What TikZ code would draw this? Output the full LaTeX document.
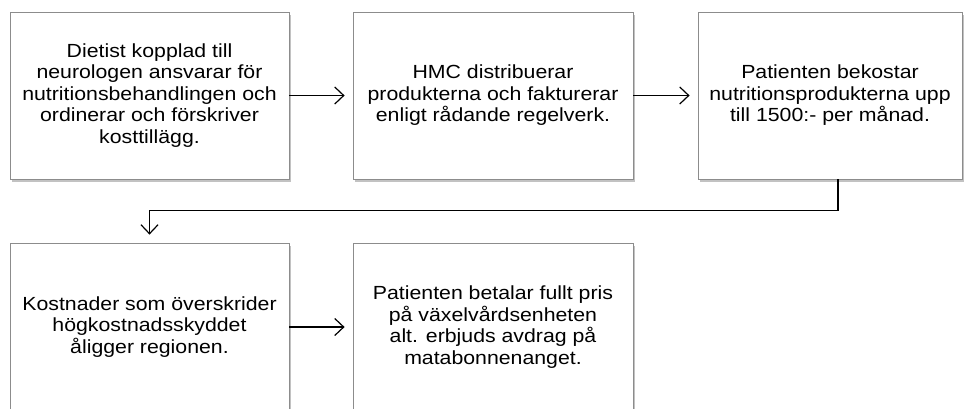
\documentclass[tikz,border=0pt]{standalone}
\usepackage{fontspec}
\setmainfont[FakeStretch=1.12]{Liberation Sans}
\usetikzlibrary{arrows.meta,shadows}
\begin{document}
\begin{tikzpicture}[x=1pt,y=-1pt,
  flowbox/.style={draw=black!45,line width=0.8pt,fill=white,align=center,inner sep=0pt,
    font=\fontsize{19}{21.5}\selectfont,
    drop shadow={shadow xshift=1.5pt,shadow yshift=-2.5pt,fill=black!40,opacity=0.6}},
  flow/.style={-{Straight Barb[length=9pt,width=17pt]},line width=1.2pt,shorten >=8pt}]
\useasboundingbox (0,0) rectangle (966,408);
% top row
\node[flowbox,minimum width=279pt,minimum height=167pt] (diet) at (149.5,95.5)
  {Dietist kopplad till\\neurologen ansvarar för\\nutritionsbehandlingen och\\ordinerar och förskriver\\kosttillägg.};
\node[flowbox,minimum width=280pt,minimum height=167pt] (hmc) at (493,95.5)
  {HMC distribuerar\\produkterna och fakturerar\\enligt rådande regelverk.};
\node[flowbox,minimum width=264pt,minimum height=167pt] (pat) at (830,95.5)
  {Patienten bekostar\\nutritionsprodukterna upp\\till 1500:- per månad.};
% bottom row
\node[flowbox,minimum width=279pt,minimum height=168pt] (kost) at (149.5,327)
  {Kostnader som överskrider\\högkostnadsskyddet\\åligger regionen.};
\node[flowbox,minimum width=280pt,minimum height=168pt] (betal) at (493,327)
  {Patienten betalar fullt pris\\på växelvårdsenheten\\alt. erbjuds avdrag på\\matabonnenanget.};
% connectors
\draw[flow] (diet) -- (hmc);
\draw[flow] (hmc) -- (pat);
\draw[flow] ([xshift=8pt]pat.south) -- ++(0,31) -| (kost.north);
\draw[flow] (kost) -- (betal);
\end{tikzpicture}
\end{document}
